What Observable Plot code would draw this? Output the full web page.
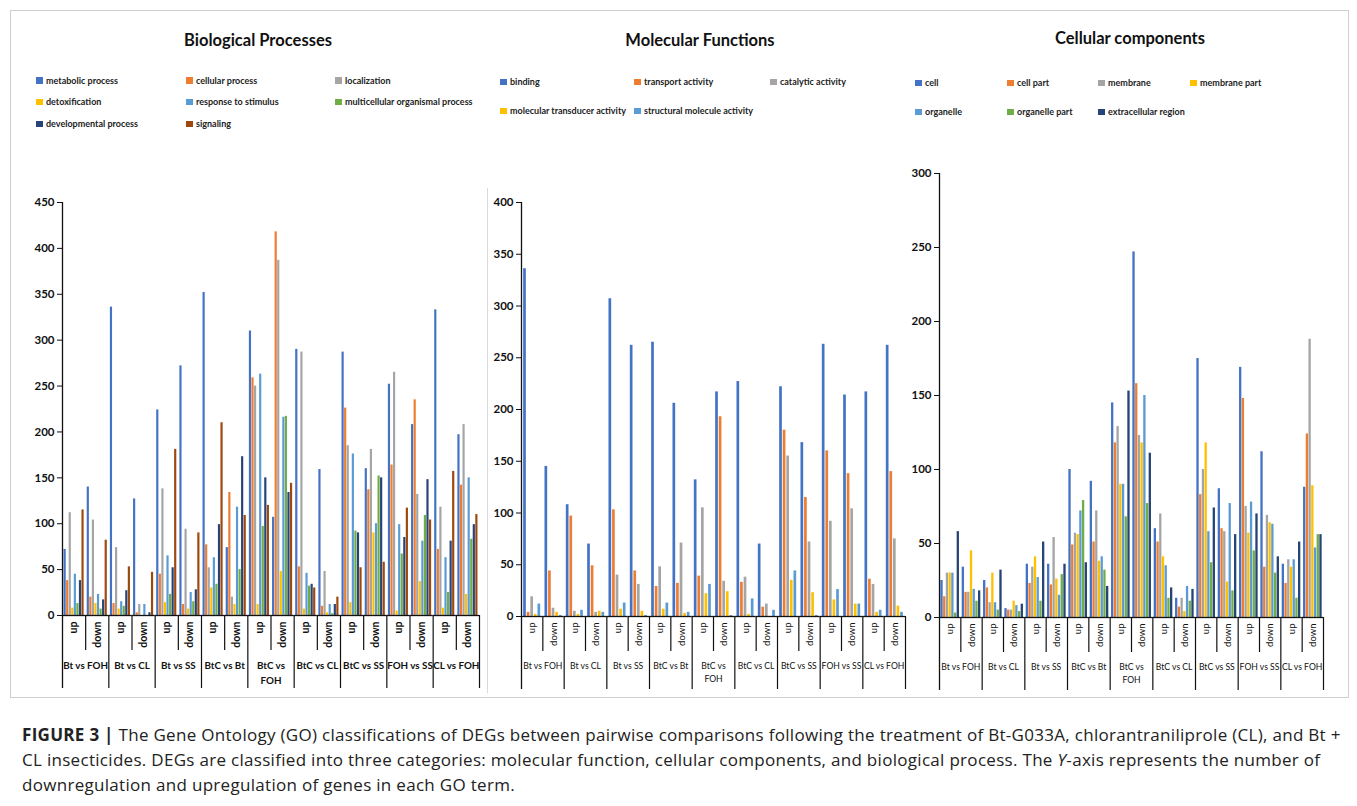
<!DOCTYPE html>
<html>
<head>
<meta charset="utf-8">
<script src="https://cdn.jsdelivr.net/npm/d3@7"></script>
<script src="https://cdn.jsdelivr.net/npm/@observablehq/plot@0.6"></script>
<style>
  html, body { margin: 0; padding: 0; background: #fff; }
  #root { position: relative; width: 1357px; height: 806px; overflow: hidden; font-family: Lato, "Open Sans", sans-serif; }
  .frame { position: absolute; left: 10px; top: 10px; width: 1339px; height: 688px; border: 1px solid #cfcfcf; box-sizing: border-box; }
  .title { position: absolute; font-weight: bold; font-size: 16.5px; color: #111; transform: translate(-50%, -50%); white-space: nowrap; }
  .leg { position: absolute; font-size: 9px; font-weight: bold; color: #222; white-space: nowrap; line-height: 10px; }
  .leg i { display: inline-block; width: 6.5px; height: 6.5px; margin-right: 3.5px; vertical-align: 0px; }
  .panel { position: absolute; }
  .panel svg { overflow: visible; }
  .vline { position: absolute; width: 1px; background: #d9d9d9; }
  .caption { position: absolute; left: 22px; top: 722px; font-family: "Open Sans", "Liberation Sans", sans-serif; font-size: 17px; letter-spacing: 0.3px; line-height: 25px; color: #222; white-space: nowrap; }
</style>
</head>
<body>
<div id="root">
  <div class="frame"></div>
  <div class="vline" style="left:487px; top:188px; height:505px;"></div>
</div>
<script>
// ---------- categories ----------
const comparisons = ["Bt vs FOH", "Bt vs CL", "Bt vs SS", "BtC vs Bt", "BtC vs FOH", "BtC vs CL", "BtC vs SS", "FOH vs SS", "CL vs FOH"];
const directions = ["up", "down"];
const groupLabels = ["Bt vs FOH", "Bt vs CL", "Bt vs SS", "BtC vs Bt", "BtC vs\nFOH", "BtC vs CL", "BtC vs SS", "FOH vs SS", "CL vs FOH"];

// ---------- Biological Processes ----------
const bpSeries = ["metabolic process", "cellular process", "localization", "detoxification", "response to stimulus", "multicellular organismal process", "developmental process", "signaling"];
const bpColors = ["#4472C4", "#ED7D31", "#A5A5A5", "#FFC000", "#5B9BD5", "#70AD47", "#264478", "#9E480E"];
const bpMetabolic     = [72, 140, 336, 127, 224, 272, 352, 74, 310, 107, 290, 159, 287, 160, 252, 208, 333, 197];
const bpCellular      = [38, 20, 13, 3, 45, 12, 77, 134, 259, 418, 53, 10, 226, 137, 164, 235, 72, 142];
const bpLocalization  = [112, 104, 74, 12, 138, 94, 52, 20, 250, 387, 287, 48, 185, 181, 265, 132, 118, 208];
const bpDetox         = [8, 13, 7, 0, 14, 7, 30, 12, 12, 48, 7, 3, 14, 90, 5, 37, 8, 23];
const bpResponse      = [45, 23, 15, 12, 65, 25, 63, 118, 263, 216, 46, 12, 176, 100, 99, 81, 63, 150];
const bpMulticellular = [13, 7, 10, 0, 23, 15, 34, 50, 97, 217, 32, 2, 92, 152, 67, 109, 25, 83];
const bpDevelopmental = [38, 17, 27, 3, 52, 28, 99, 173, 150, 134, 34, 12, 90, 150, 85, 148, 81, 99];
const bpSignaling     = [115, 82, 53, 47, 181, 90, 210, 109, 120, 144, 30, 20, 52, 58, 117, 104, 157, 110];

// ---------- Molecular Functions ----------
const mfSeries = ["binding", "transport activity", "catalytic activity", "molecular transducer activity", "structural molecule activity"];
const mfColors = ["#4472C4", "#ED7D31", "#A5A5A5", "#FFC000", "#5B9BD5"];
const mfBinding     = [336, 145, 108, 70, 307, 262, 265, 206, 132, 217, 227, 70, 222, 168, 263, 214, 217, 262];
const mfTransport   = [4, 44, 97, 49, 103, 44, 29, 32, 39, 193, 33, 9, 180, 115, 160, 138, 36, 140];
const mfCatalytic   = [19, 8, 5, 4, 40, 31, 48, 71, 105, 34, 38, 12, 155, 72, 92, 104, 31, 75];
const mfTransducer  = [2, 4, 2, 5, 7, 5, 7, 3, 22, 24, 2, 0, 35, 23, 16, 12, 4, 10];
const mfStructural  = [12, 1, 6, 4, 13, 1, 13, 4, 31, 1, 17, 6, 44, 1, 26, 12, 6, 4];

// ---------- Cellular components ----------
const ccSeries = ["cell", "cell part", "membrane", "membrane part", "organelle", "organelle part", "extracellular region"];
const ccColors = ["#4472C4", "#ED7D31", "#A5A5A5", "#FFC000", "#5B9BD5", "#70AD47", "#264478"];
const ccCell          = [25, 34, 25, 6, 36, 36, 100, 92, 145, 247, 60, 13, 175, 87, 169, 112, 36, 88];
const ccCellPart      = [14, 17, 20, 5, 23, 22, 49, 51, 118, 158, 51, 7, 83, 60, 148, 34, 23, 124];
const ccMembrane      = [30, 17, 10, 5, 34, 54, 57, 72, 129, 123, 70, 13, 100, 58, 75, 69, 39, 188];
const ccMembranePart  = [30, 45, 30, 11, 41, 26, 56, 38, 90, 118, 41, 4, 118, 24, 57, 64, 34, 89];
const ccOrganelle     = [30, 19, 10, 8, 27, 15, 72, 41, 90, 150, 35, 21, 58, 77, 78, 63, 39, 47];
const ccOrganellePart = [3, 11, 5, 4, 11, 29, 79, 32, 68, 77, 13, 11, 37, 18, 45, 30, 13, 56];
const ccExtracellular = [58, 18, 32, 9, 51, 36, 37, 21, 153, 111, 20, 19, 74, 56, 70, 41, 51, 56];

const root = document.getElementById("root");

function buildPanel(cfg) {
  const {series, colors, values, ymax, left, top, width, height, ml, mr, mt, mb, pi, po, xFont, xFontSize, xWeight, gFontSize} = cfg;
  const slots = [];
  comparisons.forEach(c => directions.forEach(d => slots.push(c + "|" + d)));
  const data = [];
  series.forEach((s, si) => values[si].forEach((v, k) => data.push({slot: slots[k], series: s, value: v})));
  const n = series.length;
  const W = (width - ml - mr) / slots.length;
  const step = W / (n - pi + 2 * po);
  const edge = step * (po + 0.5 - pi / 2);
  const pxPerUnit = (height - mt - mb) / ymax;
  const K1 = 35 / pxPerUnit, K2 = 73 / pxPerUnit;
  const slotRows = slots.map(s => ({slot: s, dir: s.split("|")[1]}));
  const groups = comparisons.map((c, i) => ({slot: c + "|up", label: groupLabels[i]}));

  const plot = Plot.plot({
    width, height, marginLeft: ml, marginRight: mr, marginTop: mt, marginBottom: mb,
    style: {fontFamily: "Lato, sans-serif", fontWeight: "bold", color: "#111", background: "transparent", overflow: "visible"},
    fx: {domain: slots, padding: 0, round: false},
    x: {domain: series, paddingInner: pi, paddingOuter: po, round: false, axis: null},
    y: {domain: [0, ymax]},
    color: {domain: series, range: colors},
    marks: [
      Plot.barY(data, {fx: "slot", x: "series", y: "value", fill: "series"}),
      Plot.ruleY([0], {stroke: "#111", strokeWidth: 1.3}),
      Plot.axisY({ticks: d3.range(0, ymax + 1, 50), tickSize: 5, tickPadding: 3, fontSize: 11.5, fontWeight: "bold", label: null, stroke: "#111", fill: "#111"}),
      Plot.axisFx({anchor: "bottom", tickSize: 0, tickPadding: 6, tickRotate: -90, label: null,
        tickFormat: s => s.split("|")[1], fontSize: xFontSize, fontFamily: xFont, fontWeight: xWeight, fill: "#111"}),
      Plot.ruleX(slotRows, {fx: "slot", x: () => series[n - 1], dx: edge, y1: () => 0, y2: d => d.dir === "up" ? -K1 : -K2, stroke: "#111", strokeWidth: 1.2}),
      Plot.ruleX([slots[0]], {fx: d => d, x: () => series[0], dx: -edge, y1: () => -K2, y2: () => ymax, stroke: "#111", strokeWidth: 1.3}),
      Plot.text(groups, {fx: "slot", x: () => series[n - 1], dx: edge, y: () => 0, dy: 43, text: "label", lineAnchor: "top",
        fontSize: gFontSize, fontFamily: xFont, fontWeight: xWeight, fill: "#111", lineHeight: 1.55})
    ]
  });
  const div = document.createElement("div");
  div.className = "panel";
  div.style.left = left + "px";
  div.style.top = top + "px";
  div.appendChild(plot);
  root.appendChild(div);
}

function addTitle(text, cx, cy) {
  const d = document.createElement("div");
  d.className = "title";
  d.style.left = cx + "px";
  d.style.top = cy + "px";
  d.textContent = text;
  root.appendChild(d);
}

function addLegend(series, colors, cols, rows) {
  series.forEach((s, i) => {
    const c = i % cols.length, r = Math.floor(i / cols.length);
    const d = document.createElement("div");
    d.className = "leg";
    d.style.left = cols[c] + "px";
    d.style.top = (rows[r] - 5) + "px";
    d.innerHTML = `<i style="background:${colors[i]}"></i>${s}`;
    root.appendChild(d);
  });
}

addTitle("Biological Processes", 258, 40);
addTitle("Molecular Functions", 700, 40);
addTitle("Cellular components", 1130, 38);

addLegend(bpSeries, bpColors, [36, 186, 335], [80.5, 102, 124]);
addLegend(mfSeries, mfColors, [500, 634, 770], [82, 111]);
addLegend(ccSeries, ccColors, [915, 1007, 1098, 1190], [83, 112]);

buildPanel({
  series: bpSeries, colors: bpColors,
  values: [bpMetabolic, bpCellular, bpLocalization, bpDetox, bpResponse, bpMulticellular, bpDevelopmental, bpSignaling],
  ymax: 450, left: 0, top: 190, width: 485, height: 505, ml: 62, mr: 6, mt: 12, mb: 80,
  pi: 0.15, po: 0.6, xFont: "Lato, sans-serif", xFontSize: 10.5, xWeight: "bold", gFontSize: 9.8
});
buildPanel({
  series: mfSeries, colors: mfColors,
  values: [mfBinding, mfTransport, mfCatalytic, mfTransducer, mfStructural],
  ymax: 400, left: 476, top: 190, width: 435, height: 506, ml: 45, mr: 6, mt: 12, mb: 80,
  pi: 0.25, po: 0.6, xFont: "Lato, sans-serif", xFontSize: 9.5, xWeight: "normal", gFontSize: 8.6
});
buildPanel({
  series: ccSeries, colors: ccColors,
  values: [ccCell, ccCellPart, ccMembrane, ccMembranePart, ccOrganelle, ccOrganellePart, ccExtracellular],
  ymax: 300, left: 894, top: 160, width: 435, height: 537, ml: 45, mr: 6, mt: 13, mb: 80,
  pi: 0.15, po: 0.5, xFont: "Lato, sans-serif", xFontSize: 9.5, xWeight: "normal", gFontSize: 8.6
});

const cap = document.createElement("div");
cap.className = "caption";
cap.innerHTML = "<b>FIGURE 3 |</b> The Gene Ontology (GO) classifications of DEGs between pairwise comparisons following the treatment of Bt-G033A, chlorantraniliprole (CL), and Bt +<br>" +
  "CL insecticides. DEGs are classified into three categories: molecular function, cellular components, and biological process. The <i>Y</i>-axis represents the number of<br>" +
  "downregulation and upregulation of genes in each GO term.";
root.appendChild(cap);
</script>
</body>
</html>
